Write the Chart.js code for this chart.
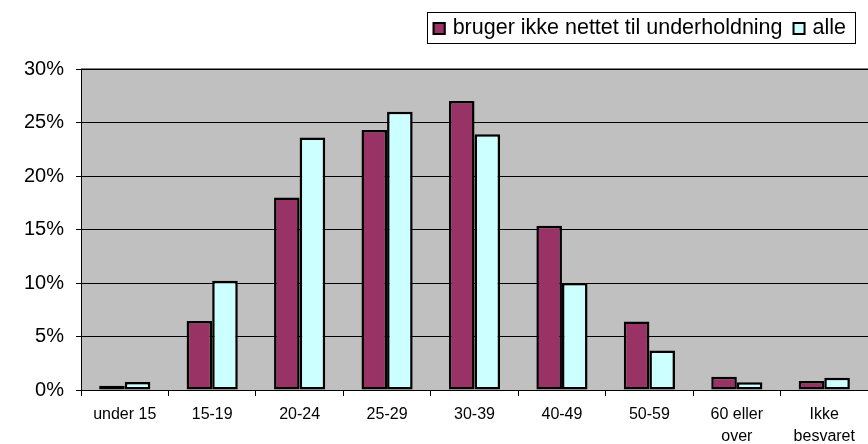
<!DOCTYPE html>
<html>
<head>
<meta charset="utf-8">
<script src="https://cdn.jsdelivr.net/npm/chart.js@4"></script>
<style>
html,body{margin:0;padding:0;background:#fff;}
#wrap{width:868px;height:444px;position:relative;}
</style>
</head>
<body>
<div id="wrap"><canvas id="c" width="868" height="444"></canvas></div>
<script>
const categories = ["under 15", "15-19", "20-24", "25-29", "30-39", "40-49", "50-59", ["60 eller", "over"], ["Ikke", "besvaret"]];
const seriesNames = ["bruger ikke nettet til underholdning", "alle"];
const brugerIkke = [0.4, 6.45, 18.0, 24.3, 27.0, 15.35, 6.4, 1.25, 0.85];
const alle = [0.75, 10.2, 23.6, 26.0, 23.9, 10.0, 3.7, 0.72, 1.15];
const yTicks = [0, 5, 10, 15, 20, 25, 30];
const colors = ['#993366', '#CCFFFF'];
const FONT = 'Liberation Sans, Arial, sans-serif';

const plotBg = {
  id: 'plotBg',
  beforeDraw(chart) {
    const {ctx, chartArea: a} = chart;
    ctx.save();
    ctx.fillStyle = '#C0C0C0';
    ctx.fillRect(a.left, a.top, a.right - a.left, a.bottom - a.top);
    ctx.fillStyle = '#808080';
    ctx.fillRect(a.left, a.top - 1, a.right - a.left, 2);
    ctx.restore();
  },
  afterDraw(chart) {
    // boxed legend at the top right
    const ctx = chart.ctx;
    const ds = chart.data.datasets;
    ctx.save();
    ctx.font = '21.5px ' + FONT;
    ctx.textBaseline = 'middle';
    const right = 856, top = 12, bottom = 43;
    const box = 13, gapBoxText = 7, gapItems = 10, padL = 6, padR = 10;
    const widths = ds.map(d => ctx.measureText(d.label).width);
    let total = padL + padR;
    widths.forEach((w, i) => { total += box + gapBoxText + w + (i ? gapItems : 0); });
    const left = right - total;
    ctx.fillStyle = '#fff';
    ctx.fillRect(left, top, right - left, bottom - top);
    ctx.strokeStyle = '#000';
    ctx.lineWidth = 1;
    ctx.strokeRect(Math.round(left) + 0.5, top + 0.5, Math.round(right - left) - 1, bottom - top);
    let x = left + padL;
    const cy = (top + bottom) / 2 + 1;
    ds.forEach((d, i) => {
      if (i) x += gapItems;
      ctx.fillStyle = d.backgroundColor;
      ctx.fillRect(x, cy - box / 2, box, box);
      ctx.lineWidth = 2;
      ctx.strokeRect(x + 1, cy - box / 2 + 1, box - 2, box - 2);
      x += box + gapBoxText;
      ctx.fillStyle = '#000';
      ctx.fillText(d.label, x, cy);
      x += widths[i];
    });
    ctx.restore();
  }
};

new Chart(document.getElementById('c'), {
  type: 'bar',
  data: {
    labels: categories,
    datasets: [
      {label: seriesNames[0], data: brugerIkke, backgroundColor: colors[0], borderColor: '#000', borderWidth: 2.5, borderSkipped: false},
      {label: seriesNames[1], data: alle, backgroundColor: colors[1], borderColor: '#000', borderWidth: 2.5, borderSkipped: false}
    ]
  },
  plugins: [plotBg],
  options: {
    responsive: false,
    animation: false,
    devicePixelRatio: 1,
    datasets: {bar: {categoryPercentage: 0.585, barPercentage: 1.0}},
    layout: {padding: {left: 12, right: 0, top: 69, bottom: 0}},
    plugins: {
      tooltip: {enabled: false},
      legend: {display: false}
    },
    scales: {
      x: {
        afterFit(axis) { axis.height = 54; },
        grid: {display: true, drawOnChartArea: false, drawTicks: true, tickLength: 6, color: '#000', offset: true},
        border: {display: true, color: '#000', width: 1},
        ticks: {font: {family: FONT, size: 16, lineHeight: 1.375}, color: '#000', maxRotation: 0, autoSkip: false, padding: 8}
      },
      y: {
        min: 0, max: 30,
        afterBuildTicks(axis) { axis.ticks = yTicks.map(v => ({value: v})); },
        grid: {color: '#000', lineWidth: 1, drawTicks: true, tickLength: 5},
        border: {display: true, color: '#000', width: 1},
        ticks: {font: {family: FONT, size: 20}, color: '#000', padding: 12,
          callback: v => v + '%'}
      }
    }
  }
});
</script>
</body>
</html>
